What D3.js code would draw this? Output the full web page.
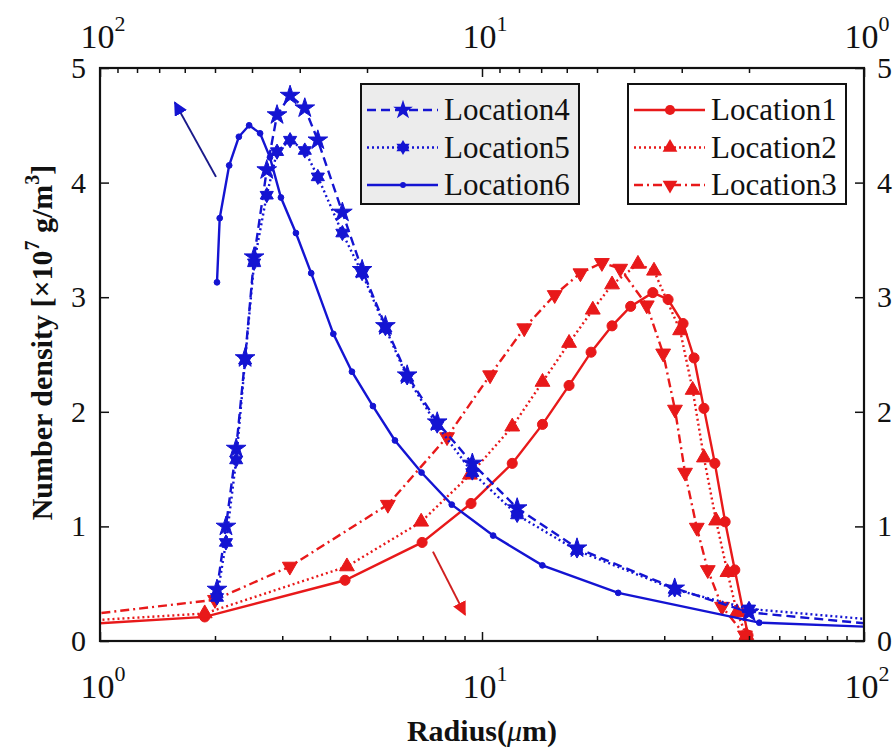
<!DOCTYPE html>
<meta charset="utf-8">
<head>
<script src="https://d3js.org/d3.v7.min.js"></script>
<style>
body { margin: 0; background: #fff; }
</style>
</head>
<body>
<script>

// red curves: radius on the bottom axis (um)
var loc1R = [0.9, 1.88, 4.38, 6.97, 9.36, 12.0, 14.4, 16.9, 19.3, 21.9, 24.5, 28.0, 30.7, 33.6, 35.9, 38.1, 40.7, 43.3, 45.9, 49.7];
var loc1  = [0.145, 0.21, 0.53, 0.86, 1.20, 1.55, 1.89, 2.23, 2.52, 2.75, 2.92, 3.04, 2.98, 2.77, 2.47, 2.03, 1.55, 1.04, 0.62, 0.05];
var loc2R = [0.9, 1.88, 4.43, 6.93, 9.3, 12.0, 14.4, 16.9, 19.5, 21.9, 25.6, 28.2, 33.0, 35.6, 38.1, 41.0, 43.9, 46.5, 49.2];
var loc2  = [0.175, 0.24, 0.65, 1.04, 1.45, 1.87, 2.26, 2.60, 2.89, 3.11, 3.29, 3.23, 2.71, 2.19, 1.60, 1.05, 0.60, 0.25, 0.05];
var loc3R = [0.9, 2.0, 3.14, 5.67, 8.1, 10.5, 12.9, 15.5, 18.1, 20.6, 23.0, 27.0, 29.8, 32.0, 34.0, 36.5, 39.0, 42.5, 48.8];
var loc3  = [0.225, 0.36, 0.65, 1.19, 1.78, 2.32, 2.73, 3.02, 3.21, 3.30, 3.25, 2.93, 2.51, 2.02, 1.47, 0.99, 0.62, 0.30, 0.05];

// blue curves: radius on the (reversed) top axis
var loc45R = [49.4, 46.8, 44.0, 41.7, 39.5, 36.6, 34.4, 31.8, 29.1, 26.9, 23.2, 20.6, 17.9, 15.7, 13.1, 10.6, 8.09, 5.64, 3.13, 2.0, 0.9];
var loc4   = [0.45, 1.00, 1.68, 2.47, 3.35, 4.11, 4.59, 4.76, 4.65, 4.37, 3.74, 3.24, 2.75, 2.32, 1.91, 1.55, 1.16, 0.81, 0.46, 0.25, 0.14];
var loc5   = [0.38, 0.86, 1.58, 2.45, 3.30, 3.89, 4.27, 4.37, 4.28, 4.05, 3.56, 3.21, 2.73, 2.30, 1.88, 1.47, 1.10, 0.79, 0.45, 0.28, 0.18];
var loc6R  = [49.4, 48.6, 45.9, 43.3, 40.7, 38.1, 35.9, 33.6, 30.7, 28.0, 24.5, 21.9, 19.3, 16.9, 14.4, 12.0, 9.35, 6.95, 4.4, 1.88, 0.9];
var loc6   = [3.13, 3.69, 4.15, 4.40, 4.50, 4.43, 4.22, 3.87, 3.56, 3.21, 2.68, 2.35, 2.05, 1.75, 1.47, 1.19, 0.92, 0.66, 0.42, 0.16, 0.12];

var majorX = [1, 10, 100];
var minorX = [2, 3, 4, 5, 6, 7, 8, 9, 20, 30, 40, 50, 60, 70, 80, 90];
var yTicks = [0, 1, 2, 3, 4, 5];
var blueNames = ["Location4", "Location5", "Location6"];
var redNames  = ["Location1", "Location2", "Location3"];

// arrows pointing at the axis each group belongs to
var blueArrow = [[49.7, 4.05], [63.7, 4.70]];
var redArrow  = [[7.44, 0.78], [9.03, 0.23]];

var RED = "#e8191a", BLUE = "#1414d2";
var FONT = "Liberation Serif";

var margin = {top: 68, right: 30, bottom: 111, left: 100},
    width = 864 - margin.left,
    height = 641 - margin.top;

var svg = d3.select("body").append("svg")
    .attr("width", 894).attr("height", 752);

var g = svg.append("g")
    .attr("transform", "translate(" + margin.left + "," + margin.top + ")");

var x = d3.scaleLog().domain([1, 100]).range([0, width]);
var xTop = d3.scaleLog().domain([100, 1]).range([0, width]);
var y = d3.scaleLinear().domain([0, 5]).range([height, 0]);

svg.append("defs").append("clipPath").attr("id", "clip")
  .append("rect").attr("width", width).attr("height", height);

// hexagram symbol for Location5
var hexagram = {
  draw: function(ctx, size) {
    var R = Math.sqrt(size) * 0.62, r = R / Math.sqrt(3);
    for (var i = 0; i < 12; i++) {
      var a = -Math.PI / 2 + i * Math.PI / 6, rr = i % 2 ? r : R;
      if (i == 0) ctx.moveTo(rr * Math.cos(a), rr * Math.sin(a));
      else ctx.lineTo(rr * Math.cos(a), rr * Math.sin(a));
    }
    ctx.closePath();
  }
};

var series = [
  {r: loc1R, v: loc1, sx: x, color: RED, dash: null, sym: d3.symbolCircle, size: 80, rot: 0},
  {r: loc2R, v: loc2, sx: x, color: RED, dash: "2,3", sym: d3.symbolTriangle, size: 95, rot: 0},
  {r: loc3R, v: loc3, sx: x, color: RED, dash: "9,4,2,4", sym: d3.symbolTriangle, size: 95, rot: 180},
  {r: loc45R, v: loc4, sx: xTop, color: BLUE, dash: "9,5", sym: d3.symbolStar, size: 120, rot: 0},
  {r: loc45R, v: loc5, sx: xTop, color: BLUE, dash: "2,3", sym: hexagram, size: 150, rot: 0},
  {r: loc6R, v: loc6, sx: xTop, color: BLUE, dash: null, sym: d3.symbolCircle, size: 26, rot: 0}
];

var plot = g.append("g").attr("clip-path", "url(#clip)");

series.forEach(function(s) {
  var pts = s.r.map(function(r, i) { return [r, s.v[i]]; });
  var line = d3.line()
      .x(function(d) { return s.sx(d[0]); })
      .y(function(d) { return y(d[1]); });
  plot.append("path")
      .attr("d", line(pts))
      .attr("fill", "none")
      .attr("stroke", s.color)
      .attr("stroke-width", 2.4)
      .attr("stroke-dasharray", s.dash);
  plot.selectAll(null)
      .data(pts)
      .enter().append("path")
      .attr("d", d3.symbol().type(s.sym).size(s.size))
      .attr("transform", function(d) {
        return "translate(" + s.sx(d[0]) + "," + y(d[1]) + ") rotate(" + s.rot + ")";
      })
      .attr("fill", s.color)
      .attr("stroke", s.color)
      .attr("stroke-width", 1);
});

// arrows
var defs = svg.select("defs");
[["ab", BLUE], ["ar", RED]].forEach(function(m) {
  defs.append("marker").attr("id", m[0])
      .attr("viewBox", "0 0 10 10").attr("refX", 9).attr("refY", 5)
      .attr("markerWidth", 7).attr("markerHeight", 7).attr("orient", "auto")
    .append("path").attr("d", "M0,0L10,5L0,10z").attr("fill", m[1]);
});
g.append("line")
    .attr("x1", xTop(blueArrow[0][0])).attr("y1", y(blueArrow[0][1]))
    .attr("x2", xTop(blueArrow[1][0])).attr("y2", y(blueArrow[1][1]))
    .attr("stroke", "#1a1a8a").attr("stroke-width", 2).attr("marker-end", "url(#ab)");
g.append("line")
    .attr("x1", x(redArrow[0][0])).attr("y1", y(redArrow[0][1]))
    .attr("x2", x(redArrow[1][0])).attr("y2", y(redArrow[1][1]))
    .attr("stroke", "#d02020").attr("stroke-width", 2).attr("marker-end", "url(#ar)");

// ticks (inward)
function tickAxis(axis, tr) {
  var a = g.append("g").attr("transform", tr).call(axis);
  a.select(".domain").remove();
  a.selectAll("line").attr("stroke", "#111").attr("stroke-width", 1.5);
  a.selectAll("text").remove();
}
tickAxis(d3.axisBottom(x).tickValues(majorX).tickSize(-9), "translate(0," + height + ")");
tickAxis(d3.axisBottom(x).tickValues(minorX).tickSize(-5), "translate(0," + height + ")");
tickAxis(d3.axisTop(xTop).tickValues(majorX).tickSize(-9), "translate(0,0)");
tickAxis(d3.axisTop(xTop).tickValues(minorX).tickSize(-5), "translate(0,0)");
tickAxis(d3.axisLeft(y).tickValues(yTicks).tickSize(-9), "translate(0,0)");
tickAxis(d3.axisRight(y).tickValues(yTicks).tickSize(-9), "translate(" + width + ",0)");

g.append("rect").attr("width", width).attr("height", height)
    .attr("fill", "none").attr("stroke", "#111").attr("stroke-width", 2.2);

function txt(sel) {
  return sel.style("font-family", FONT).style("fill", "#111");
}

// tick labels
function powLabel(px, py, e) {
  var t = txt(g.append("text")).attr("x", px).attr("y", py)
      .attr("text-anchor", "middle").style("font-size", "34px");
  t.append("tspan").text("10");
  t.append("tspan").attr("dy", -17).style("font-size", "22px").text(e);
}
majorX.forEach(function(v) {
  powLabel(x(v) + 3, height + 57, Math.round(Math.log10(v)));
  powLabel(xTop(v) + 3, -20, Math.round(Math.log10(v)));
});
yTicks.forEach(function(v) {
  txt(g.append("text")).attr("x", -14).attr("y", y(v) + 10)
      .attr("text-anchor", "end").style("font-size", "30px").text(v);
  txt(g.append("text")).attr("x", width + 13).attr("y", y(v) + 10)
      .attr("text-anchor", "start").style("font-size", "30px").text(v);
});

// axis titles
var xl = txt(g.append("text")).attr("x", width / 2).attr("y", height + 100)
    .attr("text-anchor", "middle").style("font-size", "30px").style("font-weight", "bold");
xl.append("tspan").text("Radius(");
xl.append("tspan").style("font-style", "italic").style("font-weight", "normal").text("\u03bc");
xl.append("tspan").text("m)");

var yl = txt(g.append("text"))
    .attr("transform", "translate(-48," + (height / 2 - 12) + ") rotate(-90)")
    .attr("text-anchor", "middle").style("font-size", "30px").style("font-weight", "bold");
yl.append("tspan").text("Number density [\u00d710");
yl.append("tspan").attr("dy", -13).style("font-size", "20px").text("7");
yl.append("tspan").attr("dy", 13).text(" g/m");
yl.append("tspan").attr("dy", -13).style("font-size", "20px").text("3");
yl.append("tspan").attr("dy", 13).text("]");

// legends
function legend(names, idx, lx, ly, w, bg) {
  var lg = g.append("g").attr("transform", "translate(" + lx + "," + ly + ")");
  lg.append("rect").attr("width", w).attr("height", 120)
      .attr("fill", bg).attr("stroke", "#111").attr("stroke-width", 2);
  names.forEach(function(n, i) {
    var s = series[idx[i]], cy = 26 + i * 37.5;
    lg.append("line").attr("x1", 6).attr("x2", 77).attr("y1", cy).attr("y2", cy)
        .attr("stroke", s.color).attr("stroke-width", 2.4).attr("stroke-dasharray", s.dash);
    lg.append("path").attr("d", d3.symbol().type(s.sym).size(s.size))
        .attr("transform", "translate(42," + cy + ") rotate(" + s.rot + ")")
        .attr("fill", s.color);
    txt(lg.append("text")).attr("x", 83).attr("y", cy + 10)
        .style("font-size", "31px").text(n);
  });
}
legend(blueNames, [3, 4, 5], 261, 16, 218, "#ececec");
legend(redNames, [0, 1, 2], 528, 16, 218, "#ffffff");

</script>
</body>
